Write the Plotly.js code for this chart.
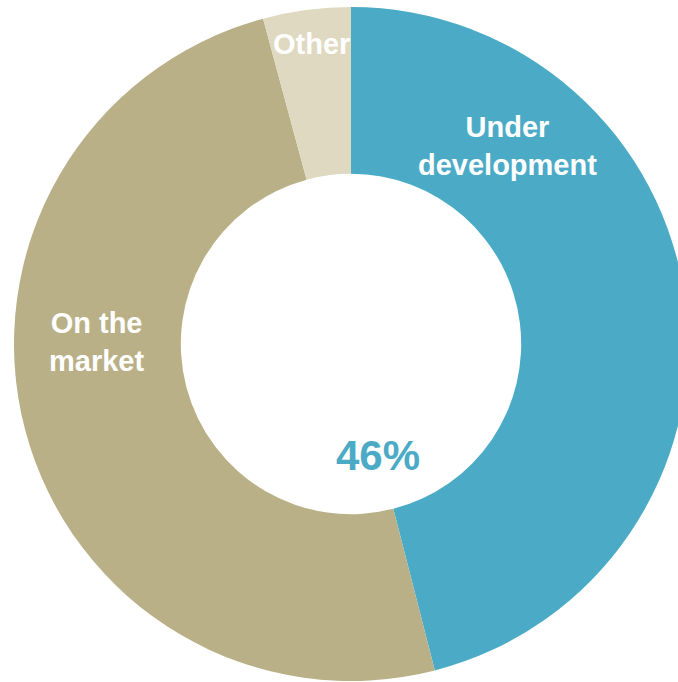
<!DOCTYPE html>
<html>
<head>
<meta charset="utf-8">
<script src="https://cdn.plot.ly/plotly-3.0.1.min.js"></script>
<style>
html, body { margin: 0; padding: 0; overflow: hidden; background: #fff; }
#chart { width: 702px; height: 688px; }
</style>
</head>
<body>
<div id="chart"></div>
<script>
const categories = ["Under development", "On the market", "Other"];
const displayLabels = ["Under<br>development", "On the<br>market", "Other"];
const values = [46, 49.8, 4.2];
const colors = ["#4BABC6", "#BAB087", "#DFD9C1"];
const centerText = "46%";

const labelPos = [
  {x: 0.7315, y: 0.7935},
  {x: 0.1231, y: 0.5030},
  {x: 0.4407, y: 0.9451}
];

const font = "Arial, 'Liberation Sans', sans-serif";

const annotations = displayLabels.map((t, i) => ({
  text: "<b>" + t + "</b>",
  x: labelPos[i].x, y: labelPos[i].y,
  xref: "paper", yref: "paper",
  showarrow: false,
  font: {family: font, size: 29, color: "#ffffff"},
  xanchor: "center", yanchor: "middle"
}));
annotations.push({
  text: "<b>" + centerText + "</b>",
  x: 0.540, y: 0.3353,
  xref: "paper", yref: "paper",
  showarrow: false,
  font: {family: font, size: 42, color: colors[0]},
  xanchor: "center", yanchor: "middle"
});

const trace = {
  type: "pie",
  labels: categories,
  values: values,
  hole: 0.505,
  sort: false,
  direction: "clockwise",
  rotation: 0,
  textinfo: "none",
  hoverinfo: "label+percent",
  marker: {colors: colors, line: {width: 0}},
  showlegend: false
};

const layout = {
  width: 702,
  height: 688,
  margin: {l: 14, r: 14, t: 7, b: 7, pad: 0},
  paper_bgcolor: "#ffffff",
  plot_bgcolor: "#ffffff",
  showlegend: false,
  annotations: annotations
};

Plotly.newPlot("chart", [trace], layout, {displayModeBar: false, staticPlot: true});
</script>
</body>
</html>
